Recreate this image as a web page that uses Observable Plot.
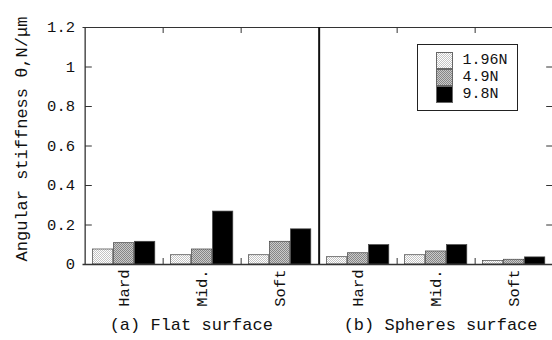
<!DOCTYPE html>
<html><head><meta charset="utf-8">
<script src="https://cdn.jsdelivr.net/npm/d3@7"></script>
<script src="https://cdn.jsdelivr.net/npm/@observablehq/plot@0.6"></script>
<style>
html,body{margin:0;padding:0;background:#fff;overflow:hidden}
#wrap{position:relative;width:552px;height:340px}
.legend{position:absolute;left:417px;top:44px;width:101px;height:67px;border:1.5px solid #222;background:#fff;padding:6.5px 0 0 17.5px;box-sizing:border-box;font:15px/17px "Liberation Mono",monospace;color:#111}
.row{display:flex;align-items:center;height:17px;line-height:17px}
.sw{width:17px;height:17px;margin-right:10px;box-sizing:border-box}
[aria-label^="y-axis"] text{font-size:15.5px}
[aria-label^="x-axis"] text{font-size:15.5px}
</style></head><body>
<svg width="0" height="0" style="position:absolute"><defs>
<pattern id="pat196" width="2" height="2" patternUnits="userSpaceOnUse"><rect width="2" height="2" fill="#ffffff"/><rect width="1" height="1" fill="#c4c4c4"/><rect x="1" y="1" width="1" height="1" fill="#c4c4c4"/></pattern>
<pattern id="pat49" width="2" height="2" patternUnits="userSpaceOnUse"><rect width="2" height="2" fill="#cacaca"/><rect width="1" height="1" fill="#868686"/><rect x="1" y="1" width="1" height="1" fill="#868686"/></pattern>
</defs></svg>
<div id="wrap"></div>
<script>
// ---- data ----
const surfaces = ["Flat", "Spheres"];
const panelLabels = ["(a) Flat surface", "(b) Spheres surface"];
const categories = ["Hard", "Mid.", "Soft"];
const loads = ["1.96N", "4.9N", "9.8N"];
// values per category (Hard, Mid., Soft)
const flat_196 = [0.076, 0.047, 0.047];
const flat_49  = [0.108, 0.076, 0.115];
const flat_98  = [0.115, 0.268, 0.178];
const sph_196  = [0.037, 0.047, 0.017];
const sph_49   = [0.057, 0.066, 0.024];
const sph_98   = [0.098, 0.098, 0.036];
const yTicks = [0, 0.2, 0.4, 0.6, 0.8, 1.0, 1.2];
const yLabel = "Angular stiffness θ,N/μm";

// ---- table ----
const series = {Flat: [flat_196, flat_49, flat_98], Spheres: [sph_196, sph_49, sph_98]};
const rows = [];
surfaces.forEach(s => categories.forEach((c, ci) => loads.forEach((l, li) => {
  rows.push({surface: s, category: c, load: l, key: s + "|" + c, value: series[s][li][ci]});
})));
const keys = [];
surfaces.forEach(s => categories.forEach(c => keys.push(s + "|" + c)));
const panels = surfaces.map((s, i) => ({key: s + "|" + categories[0], label: panelLabels[i]}));
const boundaries = keys.filter(k => !k.endsWith("|" + categories[0]));
const panelStarts = surfaces.slice(1).map(s => s + "|" + categories[0]);
const innerTicks = yTicks.filter(t => t > yTicks[0] && t < yTicks[yTicks.length - 1]);

// ---- layout ----
const W = 552, H = 340, ML = 82.5, MR = -2.7, MT = 27, MB = 76;
const step = (W - ML - MR) / keys.length;
const PAD = 7.5, BAR = 21;
const frameH = H - MT - MB;
const fills = ["url(#pat196)", "url(#pat49)", "#000"];
const lineColor = "#333";

const barMarks = loads.map((l, i) => Plot.barY(rows, {
  filter: d => d.load === l,
  x: "key", y: "value",
  fill: fills[i], stroke: "#444", strokeWidth: 0.7,
  insetLeft: PAD + BAR * i, insetRight: step - PAD - BAR * (i + 1)
}));

const chart = Plot.plot({
  width: W, height: H,
  marginLeft: ML, marginRight: MR, marginTop: MT, marginBottom: MB,
  style: {fontFamily: "'Liberation Mono', monospace", fontSize: "16px", color: "#111", background: "#fff", overflow: "hidden"},
  x: {domain: keys, padding: 0, tickFormat: k => k.split("|")[1], tickRotate: -90, tickSize: 0, tickPadding: 5, label: null},
  y: {domain: [0, 1.2], ticks: yTicks, tickFormat: d => String(+d.toFixed(1)), tickSize: 0, tickPadding: 8, label: null},
  marks: [
    ...barMarks,
    Plot.ruleY([yTicks[0]], {stroke: lineColor, strokeWidth: 1.3}),
    Plot.ruleY([yTicks[yTicks.length - 1]], {stroke: lineColor, strokeWidth: 1}),
    Plot.tickX([keys[0]], {x: d => d, dx: -step / 2, stroke: lineColor, strokeWidth: 1.3}),
    Plot.tickX(panelStarts, {x: d => d, dx: -step / 2, stroke: "#111", strokeWidth: 2}),
    Plot.tickX(boundaries, {x: d => d, dx: -step / 2, insetTop: frameH - 6, stroke: lineColor}),
    Plot.tickX(boundaries, {x: d => d, dx: -step / 2, insetBottom: frameH - 6, stroke: lineColor}),
    Plot.tickY(innerTicks, {y: d => d, x: () => keys[0], insetRight: step - 7.5, stroke: lineColor}),
    Plot.tickY(innerTicks, {y: d => d, x: () => keys[keys.length - 1], insetLeft: step - 7.5, stroke: lineColor}),
    Plot.text(panels, {x: "key", text: "label", frameAnchor: "bottom", textAnchor: "start", dy: 65, dx: -step / 2 + 24.5, fontSize: 17}),
    Plot.text([yLabel], {text: d => d, frameAnchor: "left", textAnchor: "middle", rotate: -90, dx: -61, dy: -7, fontSize: 17})
  ]
});
const wrap = document.getElementById("wrap");
wrap.appendChild(chart);

// ---- legend ----
const swatchBg = [
  "repeating-conic-gradient(#c4c4c4 0 25%, #ffffff 0 50%) 0 0/2px 2px",
  "repeating-conic-gradient(#868686 0 25%, #cacaca 0 50%) 0 0/2px 2px",
  "#000"
];
const legend = document.createElement("div");
legend.className = "legend";
loads.forEach((l, i) => {
  const row = document.createElement("div");
  row.className = "row";
  const sw = document.createElement("span");
  sw.className = "sw";
  sw.style.background = swatchBg[i];
  sw.style.border = "0.7px solid #666";
  const t = document.createElement("span");
  t.textContent = l;
  row.appendChild(sw); row.appendChild(t);
  legend.appendChild(row);
});
wrap.appendChild(legend);
</script>
</body></html>
